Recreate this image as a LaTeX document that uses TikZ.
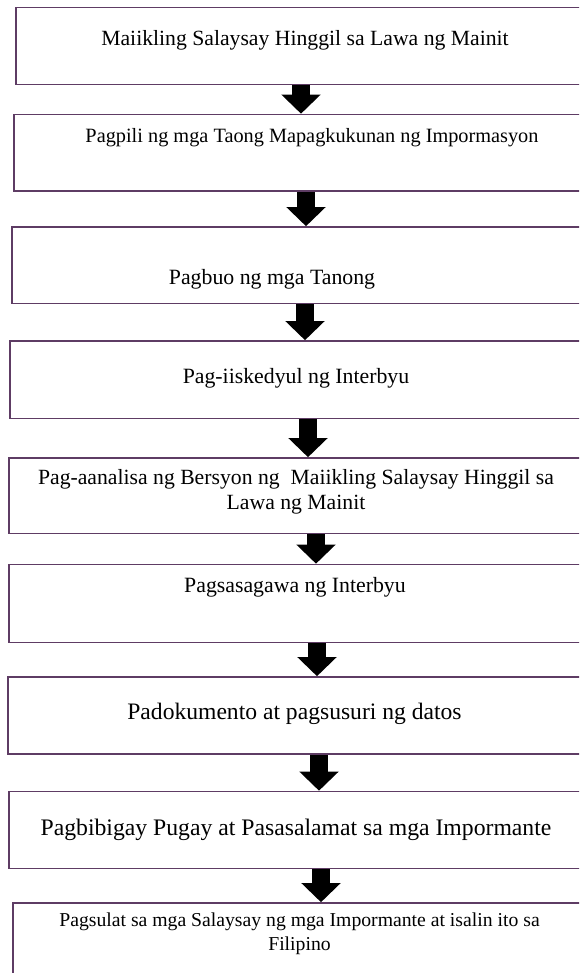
\documentclass[tikz,border=0pt]{standalone}
\usepackage{fontspec}
\setmainfont{Liberation Serif}
\usetikzlibrary{arrows.meta}
\definecolor{boxline}{RGB}{94,60,100}
\begin{document}
\begin{tikzpicture}[x=1pt,y=-1pt,
  box/.style={draw=boxline, line width=1.6pt, rectangle, inner sep=0pt},
  lbl/.style={anchor=base, inner sep=0pt, align=center, text=black},
  flow/.style={line width=18pt, -{Triangle[length=19pt,width=38pt]}, black}]
\useasboundingbox (0,0) rectangle (579,973);
\clip (0,0) rectangle (579,973);
\fill[white] (0,0) rectangle (579,973);
% boxes
\node[box, minimum width=584pt, minimum height=77pt]   (b1) at (308,46) {};
\node[box, minimum width=586pt, minimum height=76.5pt] (b2) at (307,152.75) {};
\node[box, minimum width=588pt, minimum height=76.5pt] (b3) at (306,265.25) {};
\node[box, minimum width=590pt, minimum height=77.5pt] (b4) at (305,379.75) {};
\node[box, minimum width=591pt, minimum height=75.5pt] (b5) at (304.5,495.75) {};
\node[box, minimum width=591pt, minimum height=78pt]   (b6) at (304.5,603.5) {};
\node[box, minimum width=592pt, minimum height=77pt]   (b7) at (304,715.5) {};
\node[box, minimum width=591pt, minimum height=77pt]   (b8) at (304.5,830) {};
\node[box, minimum width=587pt, minimum height=87pt]   (b9) at (306.5,946.5) {};
% texts (anchor=base is the baseline of the last line)
\node[lbl, font=\fontsize{21.7}{25}\selectfont] (t1) at (305,46) {Maiikling Salaysay Hinggil sa Lawa ng Mainit};
\node[lbl, font=\fontsize{20.3}{23}\selectfont] (t2) at (312,143) {Pagpili ng mga Taong Mapagkukunan ng Impormasyon};
\node[lbl, font=\fontsize{21.8}{25}\selectfont] (t3) at (272,284) {Pagbuo ng mga Tanong};
\node[lbl, font=\fontsize{21.8}{25}\selectfont] (t4) at (296,383) {Pag-iiskedyul ng Interbyu};
\node[lbl, font=\fontsize{21.7}{24.5}\selectfont] (t5) at (296,509) {Pag-aanalisa ng Bersyon ng~ Maiikling Salaysay Hinggil sa\\Lawa ng Mainit};
\node[lbl, font=\fontsize{21.8}{25}\selectfont] (t6) at (295,592) {Pagsasagawa ng Interbyu};
\node[lbl, font=\fontsize{23.6}{27}\selectfont] (t7) at (294.5,719) {Padokumento at pagsusuri ng datos};
\node[lbl, font=\fontsize{23.7}{27}\selectfont] (t8) at (296,835) {Pagbibigay Pugay at Pasasalamat sa mga Impormante};
\node[lbl, font=\fontsize{19.7}{23.5}\selectfont] (t9) at (299.5,950) {Pagsulat sa mga Salaysay ng mga Impormante at isalin ito sa\\Filipino};
% arrows
\draw[flow] (b1.south -| 301,0) -- (b2.north -| 301,0);
\draw[flow] (b2.south -| 306,0) -- (b3.north -| 306,0);
\draw[flow] (b3.south -| 305,0) -- (b4.north -| 305,0);
\draw[flow] (b4.south -| 308,0) -- (b5.north -| 308,0);
\draw[flow] (b5.south -| 316,0) -- (b6.north -| 316,0);
\draw[flow] (b6.south -| 317,0) -- (b7.north -| 317,0);
\draw[flow] (b7.south -| 319,0) -- (b8.north -| 319,0);
\draw[flow] (b8.south -| 321,0) -- (b9.north -| 321,0);
\end{tikzpicture}
\end{document}
